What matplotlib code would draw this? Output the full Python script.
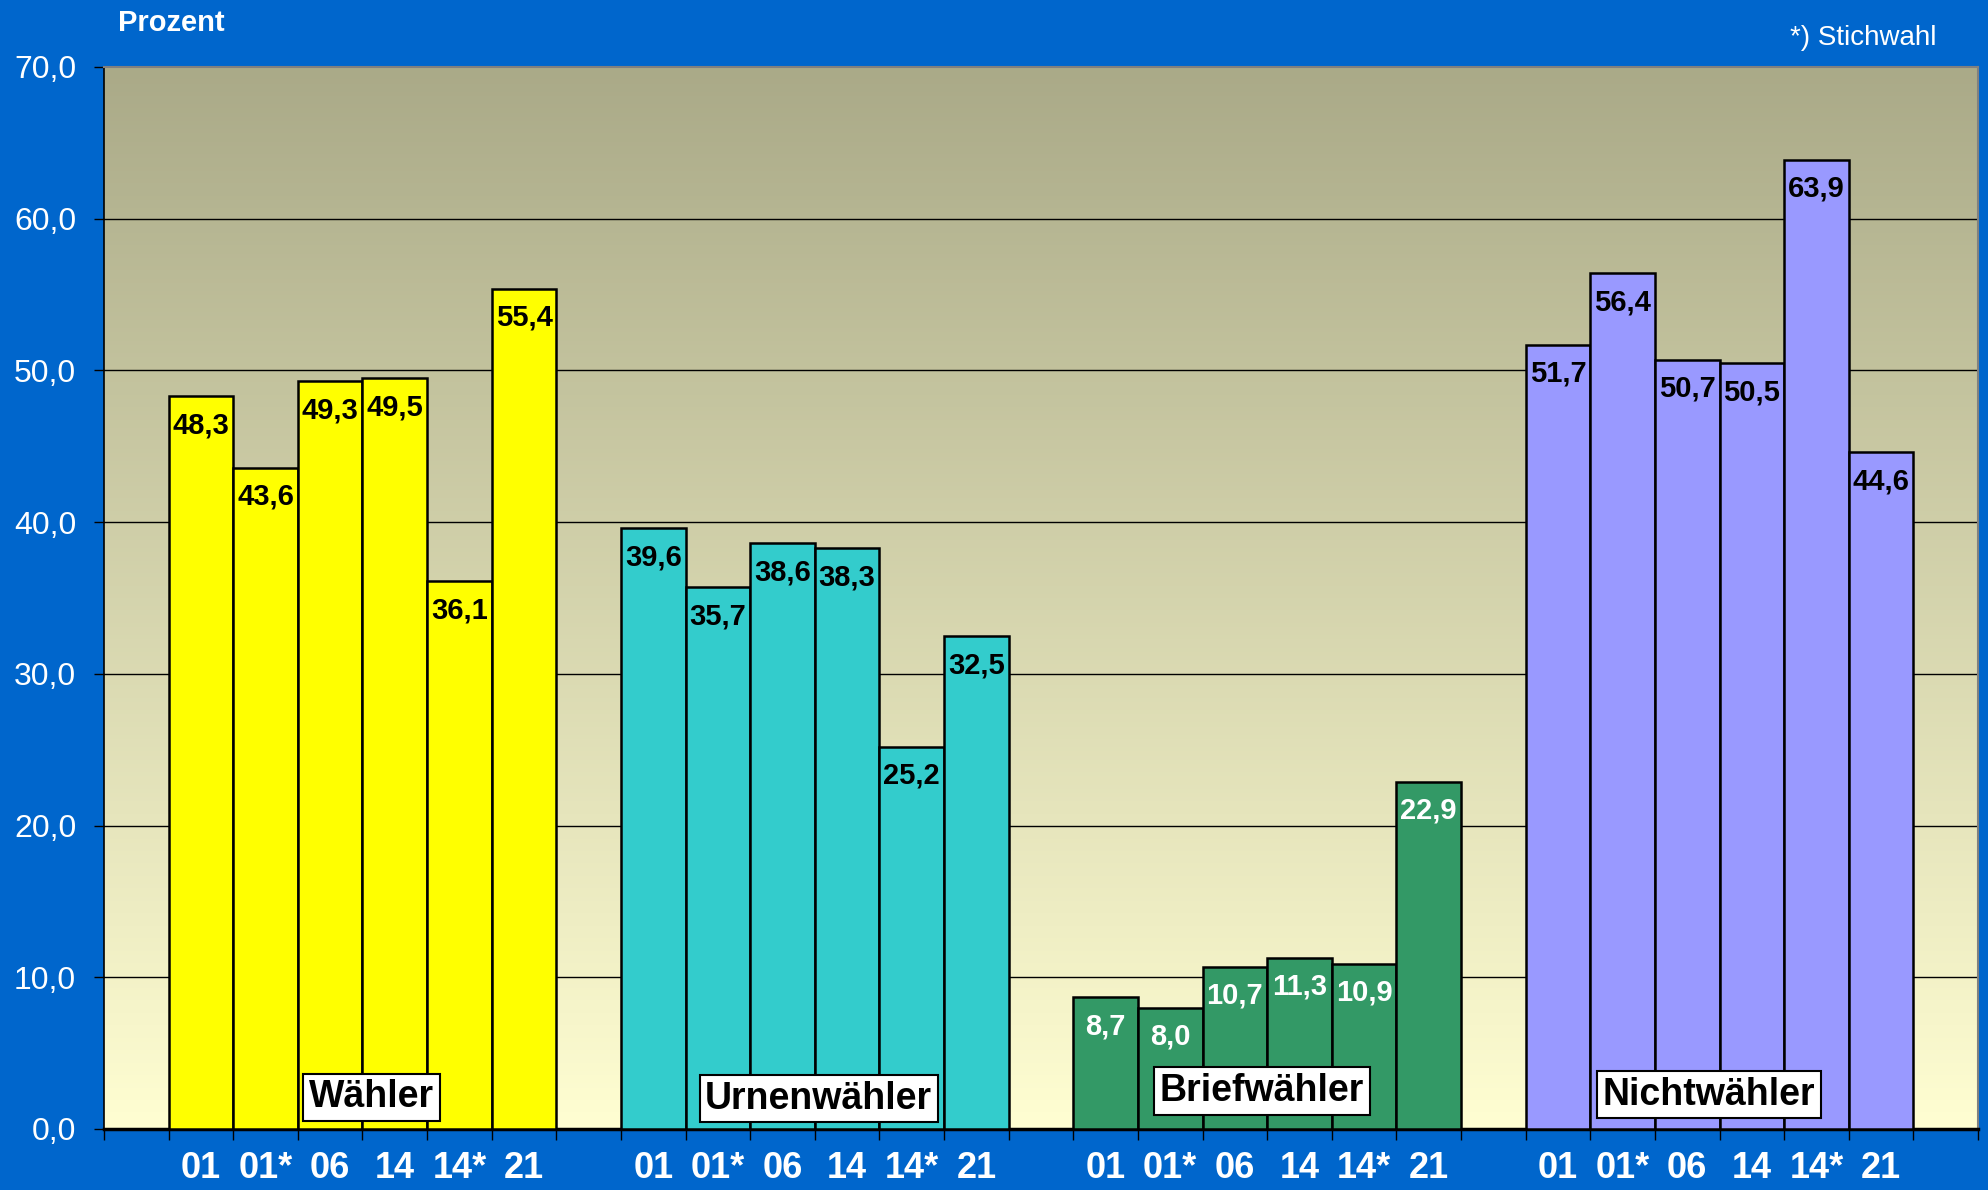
import numpy as np
import matplotlib
matplotlib.use("Agg")
import matplotlib.pyplot as plt
from matplotlib.colors import LinearSegmentedColormap

# ---- data ----
years = ["01", "01*", "06", "14", "14*", "21"]
groups = ["Wähler", "Urnenwähler", "Briefwähler", "Nichtwähler"]
waehler = [48.3, 43.6, 49.3, 49.5, 36.1, 55.4]
urnenwaehler = [39.6, 35.7, 38.6, 38.3, 25.2, 32.5]
briefwaehler = [8.7, 8.0, 10.7, 11.3, 10.9, 22.9]
nichtwaehler = [51.7, 56.4, 50.7, 50.5, 63.9, 44.6]
series = [waehler, urnenwaehler, briefwaehler, nichtwaehler]
colors = ["#FFFF00", "#33CCCC", "#339966", "#9999FF"]
label_colors = ["black", "black", "white", "black"]
yticks = [0, 10, 20, 30, 40, 50, 60, 70]

BOLD = ["Liberation Sans", "DejaVu Sans"]
REG = ["Liberation Sans", "DejaVu Sans"]

fig = plt.figure(figsize=(19.88, 11.90), dpi=100)
fig.patch.set_facecolor("#0066CC")
ax = fig.add_axes([104/1988, 1-1129/1190, (1978-104)/1988, (1129-67)/1190])

n_slots = 29
ax.set_xlim(-0.5, n_slots - 0.5)
ax.set_ylim(0, 70)

# gradient background
top = np.array([170, 170, 136]) / 255
bot = np.array([255, 254, 210]) / 255
cmap = LinearSegmentedColormap.from_list("bg", [bot, top])
grad = np.linspace(1, 0, 256).reshape(-1, 1)
ax.imshow(grad, cmap=cmap, aspect="auto", extent=[-0.5, n_slots - 0.5, 0, 70],
          zorder=0, vmin=0, vmax=1)

# grid
for yv in yticks[1:-1]:
    ax.axhline(yv, color="black", lw=1.0, zorder=1)

minor_pos = []
minor_lab = []
for g, vals in enumerate(series):
    xs = [1 + g * 7 + k for k in range(len(vals))]
    ax.bar(xs, vals, width=1.0, color=colors[g], edgecolor="black",
           linewidth=1.8, zorder=3)
    for x, v in zip(xs, vals):
        ax.annotate(f"{v:.1f}".replace(".", ","), (x, v), xytext=(0, -21),
                    textcoords="offset points", ha="center", va="center",
                    fontsize=21, fontweight="bold", color=label_colors[g],
                    family=BOLD, zorder=5)
    minor_pos += xs
    minor_lab += years

# group name boxes
box_pos = [(3.64, 2.1), (10.56, 2.0), (17.42, 2.5), (24.34, 2.25)]
for name, (bx, by) in zip(groups, box_pos):
    ax.text(bx, by, name, ha="center", va="center", fontsize=27,
            fontweight="bold", family=BOLD, color="black", zorder=6,
            bbox=dict(boxstyle="square,pad=0.15", fc="white", ec="black", lw=1.5))

# axes styling
ax.set_yticks(yticks)
ax.set_yticklabels([f"{v:.1f}".replace(".", ",") for v in yticks],
                   color="white", fontsize=23, family=REG)
ax.tick_params(axis="y", length=7, width=1, color="black", pad=13)

ax.set_xticks(np.arange(-0.5, n_slots, 1.0))
ax.set_xticklabels([])
ax.tick_params(axis="x", which="major", length=8, width=1, color="black")
ax.set_xticks(minor_pos, minor=True)
ax.set_xticklabels(minor_lab, minor=True, color="white", fontsize=26,
                   fontweight="bold", family=BOLD)
ax.tick_params(axis="x", which="minor", length=0, pad=16)

for s in ["top", "right"]:
    ax.spines[s].set_color("#808080")
    ax.spines[s].set_linewidth(1.5)
ax.spines["left"].set_color("black")
ax.spines["left"].set_linewidth(1.2)
ax.spines["bottom"].set_color("black")
ax.spines["bottom"].set_linewidth(2.5)

fig.text(118/1988, 1-23/1190, "Prozent", color="white", fontsize=21,
         fontweight="bold", family=REG, ha="left", va="center")
fig.text(1937/1988, 1-38/1190, "*) Stichwahl", color="white", fontsize=20,
         family=REG, ha="right", va="center")

fig.savefig("out.png", dpi=100, facecolor=fig.get_facecolor())
